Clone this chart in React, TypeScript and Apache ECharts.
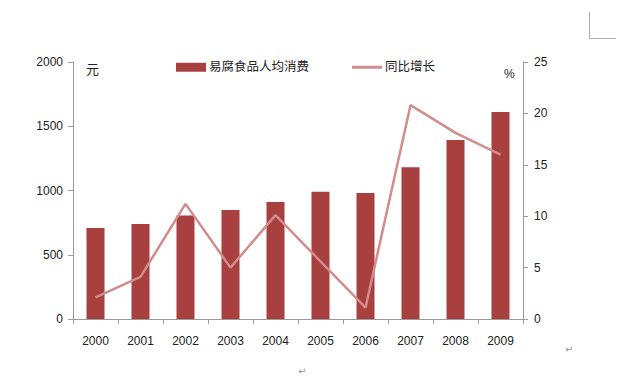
import React, { useEffect, useRef } from "react";
import * as echarts from "echarts";

const years = ["2000", "2001", "2002", "2003", "2004", "2005", "2006", "2007", "2008", "2009"];
const consumption = [708, 739, 806, 848, 910, 990, 980, 1180, 1393, 1610];
const growth = [2.1, 4.1, 11.2, 5.0, 10.1, 5.6, 1.1, 20.8, 18.1, 16.0];
const barName = "易腐食品人均消费";
const lineName = "同比增长";

const FONT = "'Liberation Sans', Arial, 'Noto Sans CJK SC', sans-serif";
const BAR = "#a8403f";
const LINE = "#d38c8c";
const AXIS = "#9a9a9a";

export default function App() {
  const ref = useRef<HTMLDivElement>(null);
  useEffect(() => {
    const chart = echarts.init(ref.current!, null, { renderer: "svg" });
    chart.setOption({
      animation: false,
      backgroundColor: "#ffffff",
      textStyle: { fontFamily: FONT },
      grid: { left: 73, right: 99, top: 62, bottom: 67 },
      legend: [
        {
          data: [{ name: barName, icon: "rect" }],
          left: 176,
          top: 61,
          padding: 0,
          itemWidth: 30,
          itemHeight: 9,
          textStyle: { fontSize: 12.5, color: "#222", fontFamily: FONT, padding: [0, 0, 0, -2] },
        },
        {
          data: [{ name: lineName, icon: "rect" }],
          left: 352,
          top: 61,
          padding: 0,
          itemWidth: 30,
          itemHeight: 3,
          textStyle: { fontSize: 12.5, color: "#222", fontFamily: FONT, padding: [0, 0, 0, -2] },
        },
      ],
      xAxis: {
        type: "category",
        data: years,
        axisLine: { lineStyle: { color: AXIS } },
        axisTick: { show: true, inside: false, length: 5, lineStyle: { color: AXIS } },
        axisLabel: { fontSize: 12, color: "#222", margin: 16, fontFamily: FONT },
      },
      yAxis: [
        {
          type: "value",
          min: 0,
          max: 2000,
          interval: 500,
          splitLine: { show: false },
          axisLine: { show: true, lineStyle: { color: AXIS } },
          axisTick: { show: true, length: 5, lineStyle: { color: AXIS } },
          axisLabel: { fontSize: 12, color: "#222", margin: 10, fontFamily: FONT, formatter: (v: number) => String(v) },
        },
        {
          type: "value",
          min: 0,
          max: 25,
          interval: 5,
          position: "right",
          splitLine: { show: false },
          axisLine: { show: true, lineStyle: { color: AXIS } },
          axisTick: { show: true, length: 5, lineStyle: { color: AXIS } },
          axisLabel: { fontSize: 12, color: "#222", margin: 11, fontFamily: FONT, formatter: (v: number) => String(v) },
        },
      ],
      series: [
        {
          name: barName,
          type: "bar",
          data: consumption,
          barWidth: 18,
          itemStyle: { color: BAR },
          yAxisIndex: 0,
        },
        {
          name: lineName,
          type: "line",
          data: growth,
          yAxisIndex: 1,
          symbol: "none",
          lineStyle: { color: LINE, width: 2.5 },
          itemStyle: { color: LINE },
        },
      ],
      graphic: [
        { type: "text", left: 86, top: 63, style: { text: "元", fontSize: 13, fill: "#222", fontFamily: FONT } },
        { type: "text", left: 504, top: 68, style: { text: "%", fontSize: 12, fill: "#222", fontFamily: FONT } },
        { type: "line", shape: { x1: 589.5, y1: 12, x2: 589.5, y2: 38.5 }, style: { stroke: "#aaa", lineWidth: 1 } },
        { type: "line", shape: { x1: 589.5, y1: 38.5, x2: 616, y2: 38.5 }, style: { stroke: "#aaa", lineWidth: 1 } },
        { type: "text", left: 565, top: 344, style: { text: "↵", fontSize: 10, fill: "#999", fontFamily: "DejaVu Sans" } },
        { type: "text", left: 298, top: 366, style: { text: "↵", fontSize: 10, fill: "#999", fontFamily: "DejaVu Sans" } },
      ],
    });
    return () => chart.dispose();
  }, []);
  return <div ref={ref} style={{ width: 622, height: 386, position: "absolute", left: 0, top: 0 }} />;
}
